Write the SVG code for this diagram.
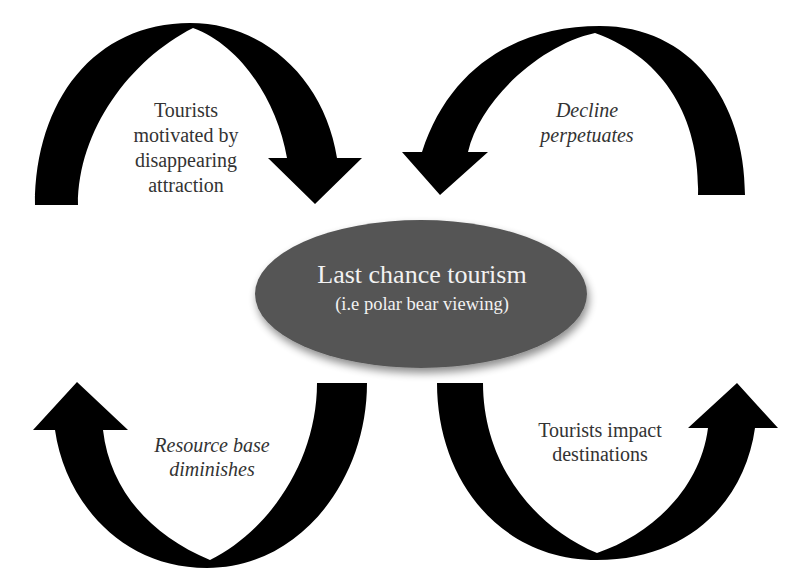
<svg xmlns="http://www.w3.org/2000/svg" width="791" height="587" viewBox="0 0 791 587">
<style>
.arrow{fill:#000;stroke:none}
.lbl{font-family:"Liberation Serif","Times New Roman",serif;font-size:20px;fill:#333;text-anchor:middle}
.it{font-style:italic}
.ctr{font-family:"Liberation Serif","Times New Roman",serif;fill:#f2f2f2;text-anchor:middle}
</style>
<defs>
<filter id="sh" x="-20%" y="-20%" width="140%" height="150%">
<feGaussianBlur in="SourceAlpha" stdDeviation="4"/>
<feOffset dx="2" dy="5" result="b"/>
<feComponentTransfer><feFuncA type="linear" slope="0.45"/></feComponentTransfer>
<feMerge><feMergeNode/><feMergeNode in="SourceGraphic"/></feMerge>
</filter>
</defs>
<rect width="791" height="587" fill="#fff"/>
<g id="connectors">
<path id="arrow-tl" class="arrow" d="M35,205 C35,100 95,23 190,23 C265,23 325,80 337,158 L362,158 L315,204 L268,158 L287,158 C277,100 240,45 193,28 C130,60 78,130 78,205 Z"/>
<path id="arrow-tr" class="arrow" d="M745,195 C745,100 690,26 600,26 C520,26 450,65 422,152 L402,152 L440,195 L488,152 L468,152 C480,100 540,45 595,33 C670,60 700,125 698,195 Z"/>
<path id="arrow-bl" class="arrow" d="M367,383 C367,480 300,568 207,568 C120,568 65,500 55,430 L33,430 L77,382 L128,430 L103,430 C110,490 150,535 210,560 C270,530 317,460 317,383 Z"/>
<path id="arrow-br" class="arrow" d="M437,383 C437,480 500,560 597,560 C690,560 745,500 755,428 L778,428 L737,383 L688,428 L708,428 C700,490 650,535 597,553 C530,525 483,460 483,383 Z"/>
</g>
<g id="node-center">
<ellipse cx="421" cy="294" rx="166" ry="74" fill="#555" filter="url(#sh)"/>
<text class="ctr" x="422" y="283" font-size="26">Last chance tourism</text>
<text class="ctr" x="422" y="310" font-size="18.5">(i.e polar bear viewing)</text>
</g>
<g id="label-tl">
<text class="lbl" x="186" y="117">Tourists</text>
<text class="lbl" x="186" y="142">motivated by</text>
<text class="lbl" x="186" y="167">disappearing</text>
<text class="lbl" x="186" y="192">attraction</text>
</g>
<g id="label-tr">
<text class="lbl it" x="587" y="117">Decline</text>
<text class="lbl it" x="587" y="142">perpetuates</text>
</g>
<g id="label-bl">
<text class="lbl it" x="212" y="452">Resource base</text>
<text class="lbl it" x="212" y="476">diminishes</text>
</g>
<g id="label-br">
<text class="lbl" x="600" y="437">Tourists impact</text>
<text class="lbl" x="600" y="461">destinations</text>
</g>
</svg>
